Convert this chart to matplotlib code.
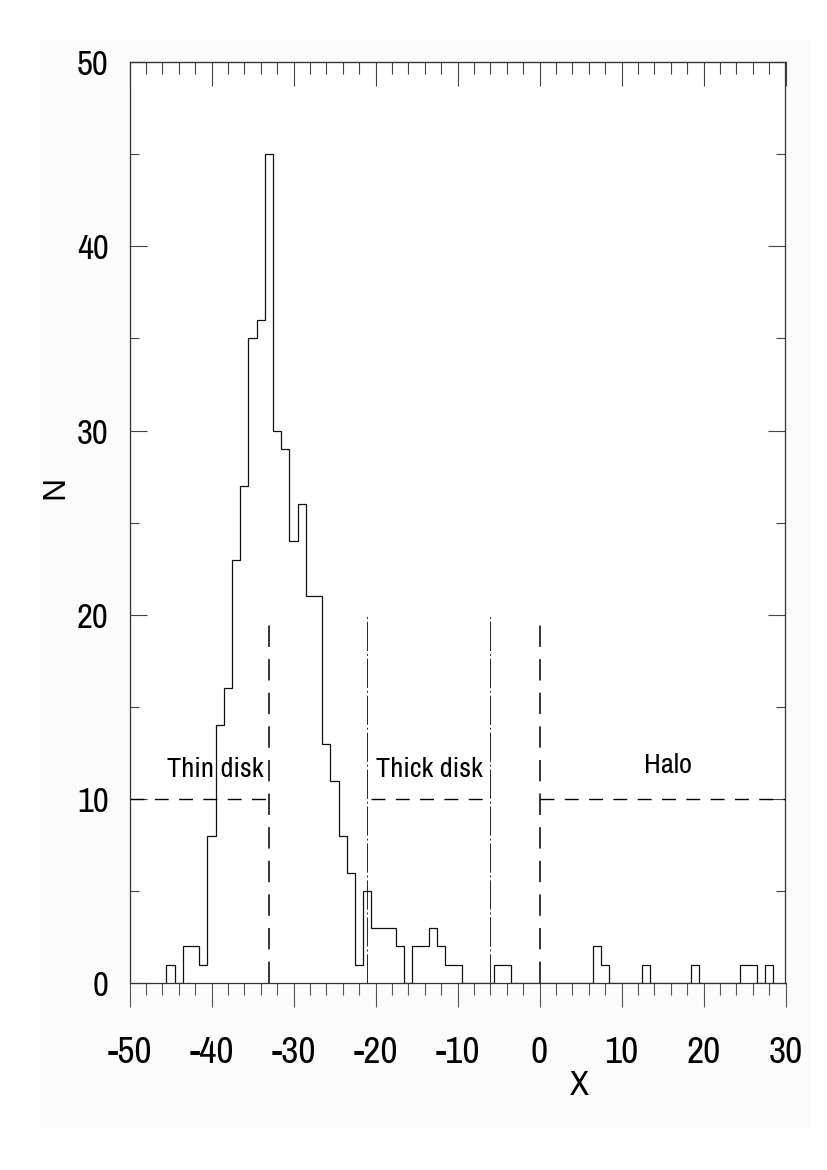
import matplotlib
matplotlib.use("Agg")
import matplotlib.pyplot as plt
import numpy as np
from matplotlib.patches import Rectangle

plt.rcParams['font.family'] = ['Archivo Narrow', 'DejaVu Sans']

# ---- data ----
bin_centers = list(range(-45, 29))
counts = [1, 0, 2, 2, 1, 8, 14, 16, 23, 27, 35, 36, 45, 30, 29, 24, 26, 21, 21, 13,
          11, 8, 6, 1, 5, 3, 3, 3, 2, 0, 2, 2, 3, 2, 1, 1, 0, 0, 0, 0,
          1, 1, 0, 0, 0, 0, 0, 0, 0, 0, 0, 0, 2, 1, 0, 0, 0, 0, 1, 0,
          0, 0, 0, 0, 1, 0, 0, 0, 0, 0, 1, 1, 0, 1]
bin_width = 1.0
dashed_vlines = [-33, 0]
dashdot_vlines = [-21, -6]
vline_top = 19.7
hline_level = 10
hline_segments = [(-50, -33), (-20.5, -6), (0, 30)]
region_labels = ["Thin disk", "Thick disk", "Halo"]
region_label_x = [-39.5, -13.4, 15.7]
region_label_y = [11.6, 11.6, 11.8]
xticks = [-50, -40, -30, -20, -10, 0, 10, 20, 30]
yticks = [0, 10, 20, 30, 40, 50]

W, H = 827, 1170
fig = plt.figure(figsize=(W / 100, H / 100), dpi=100)
fig.patches.append(Rectangle((40 / W, 1 - 1127 / H), (810 - 40) / W, (1127 - 40) / H,
                             transform=fig.transFigure, color='#fbfbfb', zorder=-10))

l, r, b, t = 129.5, 785.5, 983.3, 62
ax = fig.add_axes([l / W, 1 - b / H, (r - l) / W, (b - t) / H])
ax.set_facecolor('white')

edges = np.array(bin_centers + [bin_centers[-1] + bin_width], dtype=float) - bin_width / 2
ax.stairs(counts, edges, baseline=0, fill=False, color='#111111', lw=0.9)

for xv in dashed_vlines:
    ax.plot([xv, xv], [0, vline_top], color='black', lw=1.1, linestyle=(0, (14, 8)))
for xv in dashdot_vlines:
    ax.plot([xv, xv], [0, 20], color='#222222', lw=0.7, linestyle=(0, (30, 3, 2, 3)))
for x0, x1 in hline_segments:
    ax.plot([x0, x1], [hline_level, hline_level], color='black', lw=1.0,
            linestyle=(0, (10, 7.5)))

for txt, xx, yy in zip(region_labels, region_label_x, region_label_y):
    ax.text(xx, yy, txt, ha='center', va='center', fontsize=20.5, color='black')

ax.set_xlim(-50, 30)
ax.set_ylim(0, 50)
ax.set_xticks(xticks)
ax.set_xticks(np.arange(-50, 31, 2), minor=True)
ax.set_yticks(yticks)
ax.set_yticks(np.arange(0, 51, 5), minor=True)
ax.set_xticklabels([str(v) for v in xticks])
ax.set_yticklabels([str(v) for v in yticks])

for s in ax.spines.values():
    s.set_color('#333333')
    s.set_linewidth(0.9)

ax.tick_params(axis='x', which='major', direction='out', length=17.3, width=0.8,
               color='#555555', labelsize=27, pad=21)
ax.tick_params(axis='x', which='minor', direction='out', length=8.6, width=0.8,
               color='#555555')
ax.tick_params(axis='y', which='major', direction='in', length=12, width=0.8,
               color='#444444', labelsize=25, pad=15, left=True, right=True)
ax.tick_params(axis='y', which='minor', direction='in', length=6.5, width=0.8,
               color='#444444', left=True, right=True)

sec = ax.secondary_xaxis('top')
sec.set_xticks(xticks)
sec.set_xticks(np.arange(-50, 31, 2), minor=True)
sec.tick_params(axis='x', which='major', direction='in', length=17.3, width=0.8,
                color='#444444', labeltop=False)
sec.tick_params(axis='x', which='minor', direction='in', length=8.6, width=0.8,
                color='#444444')
sec.spines['top'].set_color('#111111')

fig.text(579 / W, 1 - 1085 / H, 'X', ha='center', va='center', fontsize=25)
fig.text(55 / W, 1 - 487 / H, 'N', ha='center', va='center', fontsize=23, rotation=90,
         family=['Liberation Sans', 'DejaVu Sans'])

fig.savefig('out.png', dpi=100)
